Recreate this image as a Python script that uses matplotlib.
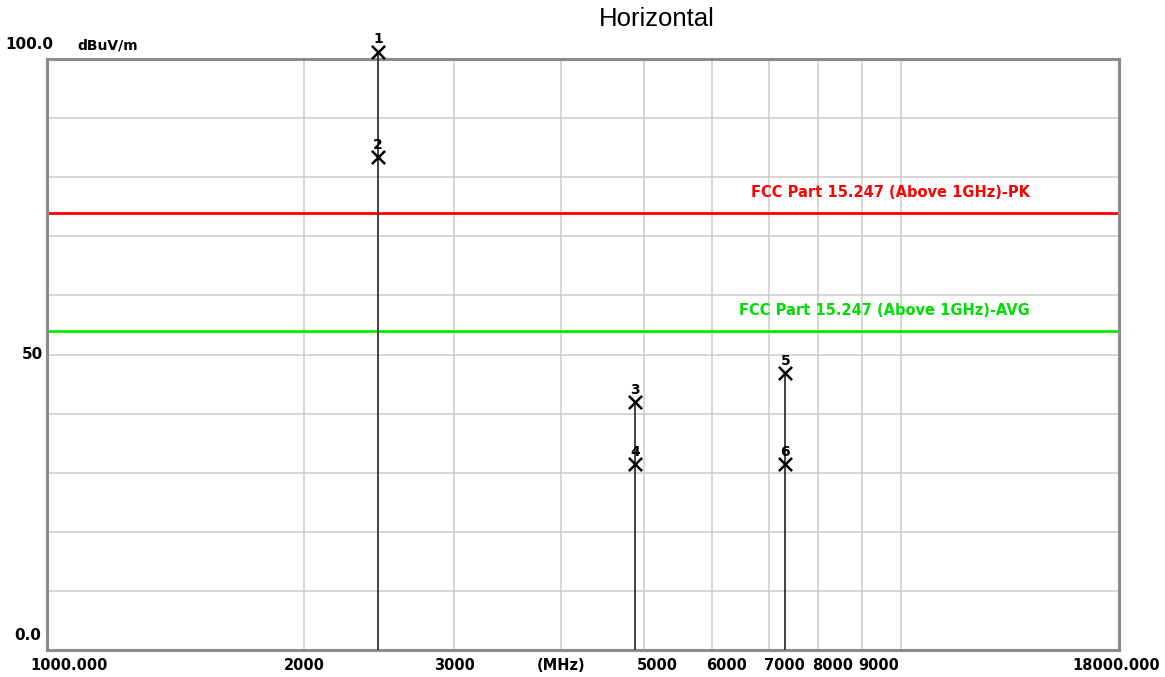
import numpy as np
import matplotlib
matplotlib.use('Agg')
import matplotlib.pyplot as plt
import matplotlib.transforms as mtransforms

# measured emissions (MHz, dBuV/m)
marker_ids = ['1', '2', '3', '4', '5', '6']
freq = [2440, 2440, 4880, 4880, 7320, 7320]
level = [101.2, 83.4, 41.9, 31.4, 46.8, 31.4]

# limit lines
pk_limit = 74.0
avg_limit = 54.0
pk_label = 'FCC Part 15.247 (Above 1GHz)-PK'
avg_label = 'FCC Part 15.247 (Above 1GHz)-AVG'

# axis stuff
x_min, x_max = 1000, 18000
y_min, y_max = 0, 100
x_grid = [2000, 3000, 4000, 5000, 6000, 7000, 8000, 9000, 10000]
y_grid = np.arange(10, 100, 10)
x_tick_vals = [2000, 3000, 4000, 5000, 6000, 7000, 8000, 9000]
x_tick_text = ['2000', '3000', '(MHz)', '5000', '6000', '7000', '8000', '9000']
x_tick_shift = [0, 0, 0, 10, 11, 11, 10, 12]   # points, labels pushed right like the analyzer does

fig = plt.figure(figsize=(11.65, 6.77), dpi=100)
ax = fig.add_axes([47/1165, (677-650)/677, (1119-47)/1165, (650-59)/677])
ax.set_xscale('log')
ax.set_xlim(x_min, x_max)
ax.set_ylim(y_min, y_max)
ax.set_xticks([])
ax.set_yticks([])
ax.xaxis.set_minor_locator(matplotlib.ticker.NullLocator())

#grid
for g in x_grid:
    ax.axvline(g, color='#cccccc', lw=1.1, zorder=0)
for g in y_grid:
    ax.axhline(g, color='#cccccc', lw=1.1, zorder=0)

for s in ax.spines.values():
    s.set_color('#8c8c8c')
    s.set_linewidth(2.2)

#limit lines
ax.axhline(pk_limit, color='#ff0000', lw=2.0, zorder=2)
ax.axhline(avg_limit, color='#00ee00', lw=2.0, zorder=2)
ax.annotate(pk_label, (1, pk_limit), xycoords=mtransforms.blended_transform_factory(ax.transAxes, ax.transData),
            textcoords='offset points', xytext=(-64, 9), color='#ff0000', fontsize=10.5,
            fontweight='bold', va='bottom', ha='right')
ax.annotate(avg_label, (1, avg_limit), xycoords=mtransforms.blended_transform_factory(ax.transAxes, ax.transData),
            textcoords='offset points', xytext=(-64, 9), color='#00dd00', fontsize=10.5,
            fontweight='bold', va='bottom', ha='right')

#markers + stems
for f in sorted(set(freq)):
    top = max(l for fr, l in zip(freq, level) if fr == f)
    ax.vlines(f, y_min, top, color='#333333', lw=1.3, zorder=3, clip_on=False)
ax.scatter(freq, level, marker='x', s=90, color='black', linewidths=1.8, zorder=4, clip_on=False)
for i, txt in enumerate(marker_ids):
    ax.annotate(txt, (freq[i], level[i]), textcoords='offset points', xytext=(0, 4),
                ha='center', va='bottom', fontsize=10, fontweight='bold', annotation_clip=False)

#axis labels
trans_x = mtransforms.blended_transform_factory(ax.transData, ax.transAxes)
for v, t, sh in zip(x_tick_vals, x_tick_text, x_tick_shift):
    ax.annotate(t, (v, 0), xycoords=trans_x, textcoords='offset points', xytext=(sh, -6),
                ha='center', va='top', fontsize=10.5, fontweight='bold')
ax.annotate('1000.000', (0, 0), xycoords='axes fraction', textcoords='offset points',
            xytext=(-12, -6), ha='left', va='top', fontsize=10.5, fontweight='bold')
ax.annotate('18000.000', (1, 0), xycoords='axes fraction', textcoords='offset points',
            xytext=(-2, -6), ha='center', va='top', fontsize=10.5, fontweight='bold')

ax.annotate('100.0', (0, 1), xycoords='axes fraction', textcoords='offset points',
            xytext=(-30, 5), ha='left', va='bottom', fontsize=11, fontweight='bold')
ax.annotate('dBuV/m', (0, 1), xycoords='axes fraction', textcoords='offset points',
            xytext=(22, 5), ha='left', va='bottom', fontsize=10, fontweight='bold')
ax.annotate('50', (0, 0.5), xycoords='axes fraction', textcoords='offset points',
            xytext=(-3, 0), ha='right', va='center', fontsize=11, fontweight='bold')
ax.annotate('0.0', (0, 0), xycoords='axes fraction', textcoords='offset points',
            xytext=(-4, 5), ha='right', va='bottom', fontsize=11, fontweight='bold')

fig.text(657/1165, 1 - 19/677, 'Horizontal', ha='center', va='center',
         fontsize=18.5, family='Liberation Sans')

plt.savefig('out.png', dpi=100)
